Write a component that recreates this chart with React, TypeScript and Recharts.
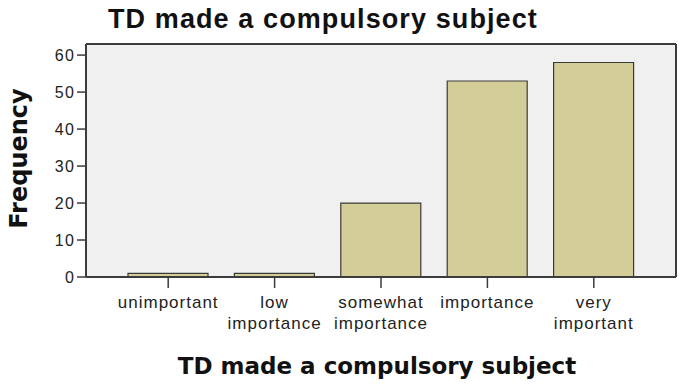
import React from 'react';
import { BarChart, Bar, XAxis, YAxis, CartesianGrid, Label } from 'recharts';

// Response categories and their counts
const categories = ['unimportant', 'low importance', 'somewhat importance', 'importance', 'very important'];
const categoryLines: string[][] = [
  ['unimportant'],
  ['low', 'importance'],
  ['somewhat', 'importance'],
  ['importance'],
  ['very', 'important'],
];
const frequencies = [1, 1, 20, 53, 58];
const yTicks = [0, 10, 20, 30, 40, 50, 60];

const chartTitle = 'TD made a compulsory subject';
const xTitle = 'TD made a compulsory subject';
const yTitle = 'Frequency';

const data = categories.map((category, i) => ({ category, frequency: frequencies[i] }));

const AXIS = '#3c3c3c';
const TICK_FONT = '"Liberation Sans", Arial, sans-serif';
const TITLE_FONT = '"DejaVu Sans", Verdana, sans-serif';

const CategoryTick = (props: any) => {
  const { x, y, index } = props;
  const lines = categoryLines[index] || [];
  return (
    <text
      x={x}
      y={y}
      textAnchor="middle"
      fill="#222"
      fontFamily={TICK_FONT}
      fontSize={17}
      letterSpacing={1}
    >
      {lines.map((line, i) => (
        <tspan key={i} x={x} y={y + 19 + i * 21}>
          {line}
        </tspan>
      ))}
    </text>
  );
};

export default function App() {
  return (
    <div style={{ position: 'absolute', left: 0, top: 0, width: 679, height: 385, background: '#fff' }}>
      <div
        style={{
          position: 'absolute',
          left: 108,
          top: 4,
          fontFamily: TICK_FONT,
          fontWeight: 'bold',
          fontSize: 27,
          letterSpacing: 1.1,
          lineHeight: '30px',
          color: '#111',
          whiteSpace: 'nowrap',
        }}
      >
        {chartTitle}
      </div>
      <BarChart
        width={679}
        height={385}
        data={data}
        margin={{ top: 43, right: 2, bottom: 0, left: 0 }}
        barSize={80}
      >
        <CartesianGrid horizontal={false} vertical={false} fill="#f0f0f0" />
        <XAxis
          dataKey="category"
          interval={0}
          padding={{ left: 29, right: 29 }}
          height={108}
          tickSize={11}
          tickMargin={1}
          axisLine={{ stroke: AXIS, strokeWidth: 2 }}
          tickLine={{ stroke: AXIS, strokeWidth: 1.5 }}
          tick={<CategoryTick />}
        >
          <Label
            content={(p: any) => {
              const vb = p.viewBox;
              return (
                <text
                  x={vb.x + vb.width / 2 - 4}
                  y={vb.y + 97}
                  textAnchor="middle"
                  fontFamily={TITLE_FONT}
                  fontWeight="bold"
                  fontSize={23}
                  fill="#111"
                >
                  {xTitle}
                </text>
              );
            }}
          />
        </XAxis>
        <XAxis
          xAxisId="top"
          orientation="top"
          dataKey="category"
          height={1}
          tick={false}
          tickLine={false}
          axisLine={{ stroke: AXIS, strokeWidth: 2 }}
        />
        <YAxis
          type="number"
          domain={[0, 63]}
          ticks={yTicks}
          interval={0}
          width={86}
          tickSize={9}
          tickMargin={2}
          axisLine={{ stroke: AXIS, strokeWidth: 2 }}
          tickLine={{ stroke: AXIS, strokeWidth: 1.5 }}
          tick={{ fill: '#222', fontFamily: TICK_FONT, fontSize: 16, letterSpacing: 1.2 }}
        >
          <Label
            content={(p: any) => {
              const vb = p.viewBox;
              const cx = 27;
              const cy = vb.y + vb.height / 2 - 2;
              return (
                <text
                  x={cx}
                  y={cy}
                  transform={`rotate(-90 ${cx} ${cy})`}
                  textAnchor="middle"
                  fontFamily={TITLE_FONT}
                  fontWeight="bold"
                  fontSize={24}
                  fill="#111"
                >
                  {yTitle}
                </text>
              );
            }}
          />
        </YAxis>
        <YAxis
          yAxisId="right"
          orientation="right"
          type="number"
          domain={[0, 63]}
          width={1}
          tick={false}
          tickLine={false}
          axisLine={{ stroke: AXIS, strokeWidth: 2 }}
        />
        <Bar
          dataKey="frequency"
          fill="#d3ce97"
          stroke="#3a3a3a"
          strokeWidth={1.2}
          isAnimationActive={false}
        />
      </BarChart>
    </div>
  );
}
